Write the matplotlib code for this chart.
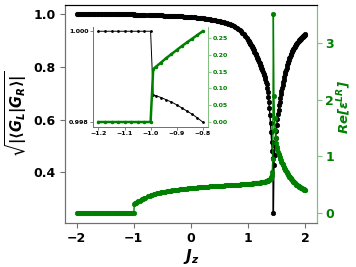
import numpy as np
import matplotlib
matplotlib.use('Agg')
import matplotlib.pyplot as plt

plt.rcParams['font.weight'] = 'bold'
plt.rcParams['mathtext.fontset'] = 'dejavusans'

# Jz grid (finer around the jump at -1 and from 1.0 on)
Jz = np.round(np.concatenate([
    np.arange(-2.0, -0.999, 0.025),
    [-0.99, -0.98, -0.96, -0.94, -0.92, -0.90, -0.88, -0.86, -0.84, -0.82, -0.80],
    np.arange(-0.75, 0.9751, 0.025),
    np.arange(1.00, 2.0001, 0.01),
]), 3)

# sqrt(|<G_L|G_R>|)
overlap = np.array(
    [1.0] * 41
    + [0.99860, 0.99858, 0.99854, 0.99849, 0.99844, 0.99838, 0.99831, 0.99824, 0.99817, 0.99809, 0.99800]
    + [0.9978, 0.99765, 0.9975, 0.99735, 0.9972, 0.99705, 0.9969, 0.99675, 0.9966, 0.9964,
       0.9962, 0.9960, 0.9958, 0.9956, 0.9954, 0.99515, 0.9949, 0.99465, 0.9944, 0.9941,
       0.9938, 0.9935, 0.9932, 0.99285, 0.9925, 0.9921, 0.9917, 0.9913, 0.9909, 0.99045,
       0.9900, 0.9895, 0.9890, 0.98845, 0.9879, 0.9873, 0.9867, 0.98605, 0.9854, 0.9847,
       0.9840, 0.9832, 0.9824, 0.9815, 0.9806, 0.9796, 0.9786, 0.9775, 0.9764, 0.97515,
       0.9739, 0.9725, 0.9711, 0.96955, 0.9680, 0.96625, 0.9645, 0.9625, 0.9605, 0.95825,
       0.9560, 0.9530, 0.9500, 0.9460, 0.9420, 0.9365, 0.9310, 0.9245, 0.9180, 0.9100]
    + [0.902, 0.898, 0.895, 0.891, 0.888, 0.884, 0.880, 0.876, 0.871, 0.867,
       0.863, 0.858, 0.854, 0.849, 0.845, 0.840, 0.835, 0.830, 0.825, 0.820,
       0.815, 0.809, 0.804, 0.798, 0.793, 0.787, 0.781, 0.775, 0.768, 0.762,
       0.755, 0.745, 0.734, 0.720, 0.705, 0.688, 0.668, 0.645, 0.619, 0.588,
       0.553, 0.514, 0.482, 0.455, 0.246, 0.428, 0.465, 0.500, 0.530, 0.557,
       0.580, 0.601, 0.620, 0.638, 0.654, 0.669, 0.683, 0.697, 0.710, 0.722,
       0.733, 0.742, 0.752, 0.762, 0.772, 0.782, 0.790, 0.798, 0.806, 0.814,
       0.821, 0.827, 0.833, 0.839, 0.845, 0.851, 0.856, 0.860, 0.865, 0.869,
       0.873, 0.876, 0.880, 0.883, 0.887, 0.890, 0.893, 0.896, 0.898, 0.901,
       0.904, 0.906, 0.908, 0.911, 0.913, 0.915, 0.917, 0.919, 0.921, 0.922,
       0.924]
)

# Re[eps^LR]
re_eps = np.array(
    [0.0] * 41
    + [0.157, 0.164, 0.177, 0.190, 0.202, 0.214, 0.226, 0.237, 0.248, 0.259, 0.270]
    + [0.293, 0.303, 0.312, 0.320, 0.328, 0.335, 0.342, 0.348, 0.354, 0.360,
       0.365, 0.370, 0.375, 0.380, 0.384, 0.388, 0.392, 0.396, 0.400, 0.404,
       0.407, 0.411, 0.414, 0.417, 0.420, 0.423, 0.426, 0.429, 0.432, 0.435,
       0.437, 0.440, 0.442, 0.445, 0.447, 0.449, 0.451, 0.453, 0.455, 0.457,
       0.459, 0.461, 0.463, 0.465, 0.467, 0.469, 0.470, 0.472, 0.474, 0.476,
       0.477, 0.479, 0.480, 0.482, 0.484, 0.486, 0.487, 0.489, 0.490, 0.492,
       0.493, 0.495, 0.496, 0.498, 0.500, 0.502, 0.503, 0.505, 0.507, 0.509]
    + [0.511, 0.512, 0.513, 0.513, 0.514, 0.515, 0.516, 0.517, 0.518, 0.519,
       0.520, 0.521, 0.522, 0.524, 0.525, 0.526, 0.527, 0.528, 0.530, 0.531,
       0.533, 0.535, 0.536, 0.538, 0.540, 0.542, 0.544, 0.546, 0.548, 0.550,
       0.553, 0.556, 0.559, 0.563, 0.567, 0.572, 0.578, 0.585, 0.594, 0.606,
       0.625, 0.660, 0.730, 0.950, 3.510, 2.060, 1.680, 1.460, 1.330, 1.240,
       1.170, 1.120, 1.080, 1.045, 1.015, 0.980, 0.955, 0.930, 0.905, 0.880,
       0.860, 0.837, 0.815, 0.793, 0.771, 0.750, 0.733, 0.717, 0.701, 0.685,
       0.670, 0.655, 0.641, 0.627, 0.613, 0.600, 0.588, 0.576, 0.564, 0.552,
       0.540, 0.530, 0.520, 0.510, 0.500, 0.490, 0.483, 0.476, 0.469, 0.462,
       0.455, 0.449, 0.443, 0.437, 0.431, 0.425, 0.420, 0.415, 0.410, 0.405,
       0.400]
)

grey = '#707070'
lgreen = '#80c080'

fig = plt.figure(figsize=(3.56, 2.67), dpi=100)
ax = fig.add_axes([0.183, 0.166, 0.707, 0.817])
ax.plot(Jz, overlap, 'o-', color='k', ms=3.2, mew=0.5, lw=1)
ax.set_xticks([-2, -1, 0, 1, 2])
ax.set_yticks([0.4, 0.6, 0.8, 1.0])
ax.tick_params(labelsize=9, color=grey)
ax.set_xlabel(r'$\mathbfit{J_z}$', fontsize=11, labelpad=1)
ax.set_ylabel(r'$\sqrt{|\langle \mathbfit{G_L}|\mathbfit{G_R}\rangle|}$', fontsize=10.5, labelpad=3)

ax2 = ax.twinx()
ax2.plot(Jz, re_eps, 'o-', color='green', ms=3.2, mew=0.5, lw=1)
ax2.set_yticks([0, 1, 2, 3])
ax2.tick_params(axis='y', labelsize=9, colors='green', pad=2.5)
ax2.tick_params(axis='y', color=lgreen)
ax2.set_ylabel(r'$\mathbfit{Re[\varepsilon^{LR}]}$', color='green', fontsize=9.5)
ax2.yaxis.set_label_coords(1.075, 0.53)

for a in (ax, ax2):
    a.spines['left'].set_color(grey)
    a.spines['bottom'].set_color(grey)
    a.spines['top'].set_color('k')
    a.spines['right'].set_color(lgreen)

# inset: zoom on the jump at Jz = -1
m = (Jz >= -1.2) & (Jz <= -0.8)
axi = fig.add_axes([0.262, 0.526, 0.322, 0.374])
axi.plot(Jz[m], overlap[m], 'o-', color='k', ms=1, lw=0.7)
axi.set_xticks([-1.2, -1.1, -1.0, -0.9, -0.8])
axi.set_yticks([0.998, 1.000])
axi.yaxis.set_major_formatter(matplotlib.ticker.FormatStrFormatter('%.3f'))
axi.tick_params(labelsize=4.5, length=2, width=0.6, pad=1.5, color=grey)

axi2 = axi.twinx()
axi2.plot(Jz[m], re_eps[m], 'o-', color='green', ms=1.5, lw=1.8)
axi2.set_yticks([0.0, 0.05, 0.10, 0.15, 0.20, 0.25])
axi2.yaxis.set_major_formatter(matplotlib.ticker.FormatStrFormatter('%.2f'))
axi2.tick_params(axis='y', labelsize=4.5, length=2, width=0.6, pad=1.5, colors='green')
axi2.tick_params(axis='y', color=lgreen)

for a in (axi, axi2):
    a.spines['left'].set_color(grey)
    a.spines['bottom'].set_color(grey)
    a.spines['top'].set_visible(False)
    a.spines['right'].set_color(lgreen)
    for s in a.spines.values():
        s.set_linewidth(0.6)

fig.savefig('out.png', dpi=100)
